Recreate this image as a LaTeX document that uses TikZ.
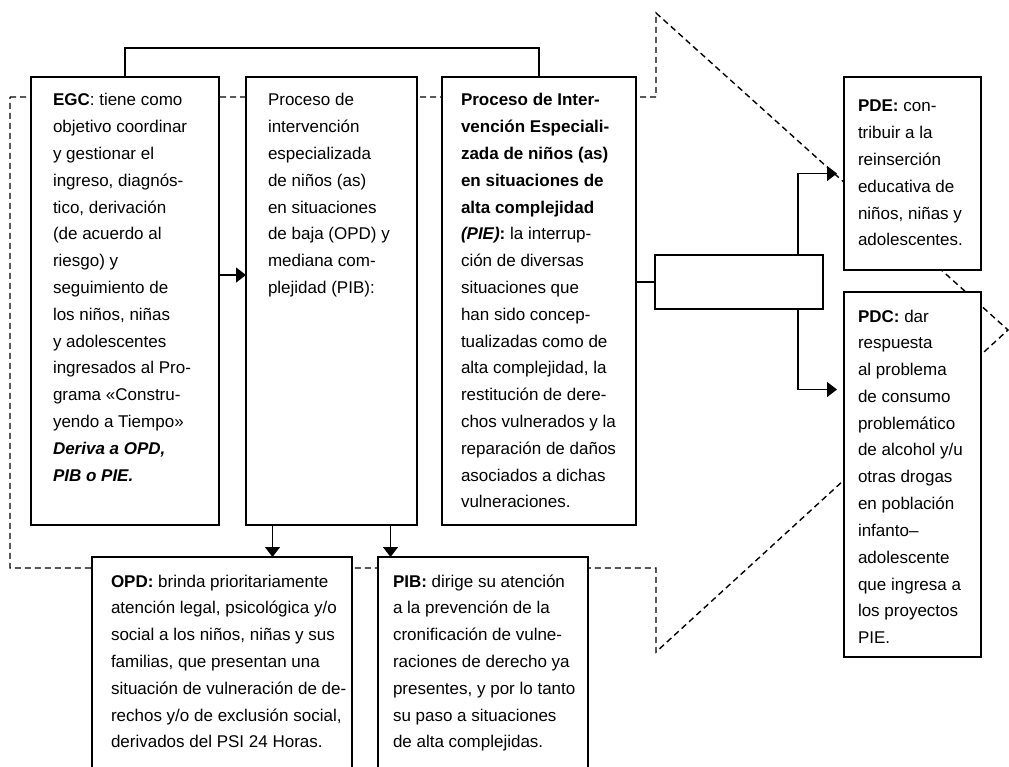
\documentclass[tikz,border=0pt]{standalone}
\usepackage{fontspec}
\setmainfont{Liberation Sans}
\usetikzlibrary{arrows.meta}
\newcommand\tbody[1]{\parbox[t]{300pt}{\raggedright\fontsize{17}{26.8}\selectfont #1}}
\begin{document}
\begin{tikzpicture}[x=1pt,y=-1pt,
  box/.style={draw, line width=2.8pt, fill=white, rectangle, inner sep=0pt, outer sep=0pt, anchor=north west},
  lowbox/.style={box, line width=1.8pt},
  txt/.style={anchor=base west, inner sep=0pt, outer sep=0pt},
  conn/.style={line width=1.3pt},
  arr/.style={conn, -{Triangle[length=10pt,width=15pt]}},
  frame/.style={line width=1.4pt, dash pattern=on 6pt off 4pt}
]
\useasboundingbox (0,0) rectangle (1009,767);
\fill[white] (0,0) rectangle (1009,767);

% dashed frame behind everything
\draw[frame] (10,97) -- (656,97) -- (656,13) -- (1008,330) -- (656,652) -- (656,568) -- (10,568) -- cycle;

% main boxes
\node[box, minimum width=188pt, minimum height=448pt] (egc) at (31,77) {};
\node[box, minimum width=171pt, minimum height=448pt] (mid) at (246,77) {};
\node[box, minimum width=194pt, minimum height=448pt] (pie) at (442,77) {};
\node[box, minimum width=168pt, minimum height=54pt] (emp) at (655,255) {};
\node[box, minimum width=137pt, minimum height=193pt] (pde) at (844,77) {};
\node[box, minimum width=137pt, minimum height=365pt] (pdc) at (844,292) {};
\node[lowbox, minimum width=260pt, minimum height=240pt] (opd) at (92,557) {};
\node[lowbox, minimum width=210pt, minimum height=240pt] (pib) at (378,557) {};

% connectors
\draw[conn] (egc.north) -- ++(0,-29) -| (pie.north);
\draw[arr] ([yshift=26pt]egc.east) -- ([yshift=26pt]mid.west);
\draw[arr] ([xshift=-59pt]mid.south) -- ([xshift=-59pt]mid.south |- opd.north);
\draw[arr] ([xshift=59pt]mid.south) -- ([xshift=59pt]mid.south |- pib.north);
\draw[conn] (pie.east |- emp.west) -- (emp.west);
\draw[arr, shorten >=7pt] ([xshift=59pt]emp.north) |- (pde.west);
\draw[arr, shorten >=7pt] ([xshift=59pt]emp.south) |- ([yshift=85pt]pdc.west);

% texts
\node[txt] (egct) at (53,106) {\tbody{\textbf{EGC}: tiene como\\
objetivo coordinar\\
y gestionar el\\
ingreso, diagnós-\\
tico, derivación\\
(de acuerdo al\\
riesgo) y\\
seguimiento de\\
los niños, niñas\\
y adolescentes\\
ingresados al Pro-\\
grama «Constru-\\
yendo a Tiempo»\\
\textbf{\textit{Deriva a OPD,}}\\
\textbf{\textit{PIB o PIE.}}}};

\node[txt] (midt) at (268,106) {\tbody{Proceso de\\
intervención\\
especializada\\
de niños (as)\\
en situaciones\\
de baja (OPD) y\\
mediana com-\\
plejidad (PIB):}};

\node[txt] (piet) at (461,106) {\tbody{\textbf{Proceso de Inter-}\\
\textbf{vención Especiali-}\\
\textbf{zada de niños (as)}\\
\textbf{en situaciones de}\\
\textbf{alta complejidad}\\
\textbf{\textit{(PIE)}:} la interrup-\\
ción de diversas\\
situaciones que\\
han sido concep-\\
tualizadas como de\\
alta complejidad, la\\
restitución de dere-\\
chos vulnerados y la\\
reparación de daños\\
asociados a dichas\\
vulneraciones.}};

\node[txt] (pdet) at (858,112) {\tbody{\textbf{PDE:} con-\\
tribuir a la\\
reinserción\\
educativa de\\
niños, niñas y\\
adolescentes.}};

\node[txt] (pdct) at (858,322) {\tbody{\textbf{PDC:} dar\\
respuesta\\
al problema\\
de consumo\\
problemático\\
de alcohol y/u\\
otras drogas\\
en población\\
infanto--\\
adolescente\\
que ingresa a\\
los proyectos\\
PIE.}};

\node[txt] (opdt) at (111,587) {\tbody{\textbf{OPD:} brinda prioritariamente\\
atención legal, psicológica y/o\\
social a los niños, niñas y sus\\
familias, que presentan una\\
situación de vulneración de de-\\
rechos y/o de exclusión social,\\
derivados del PSI 24 Horas.}};

\node[txt] (pibt) at (393,587) {\tbody{\textbf{PIB:} dirige su atención\\
a la prevención de la\\
cronificación de vulne-\\
raciones de derecho ya\\
presentes, y por lo tanto\\
su paso a situaciones\\
de alta complejidas.}};
\end{tikzpicture}
\end{document}
